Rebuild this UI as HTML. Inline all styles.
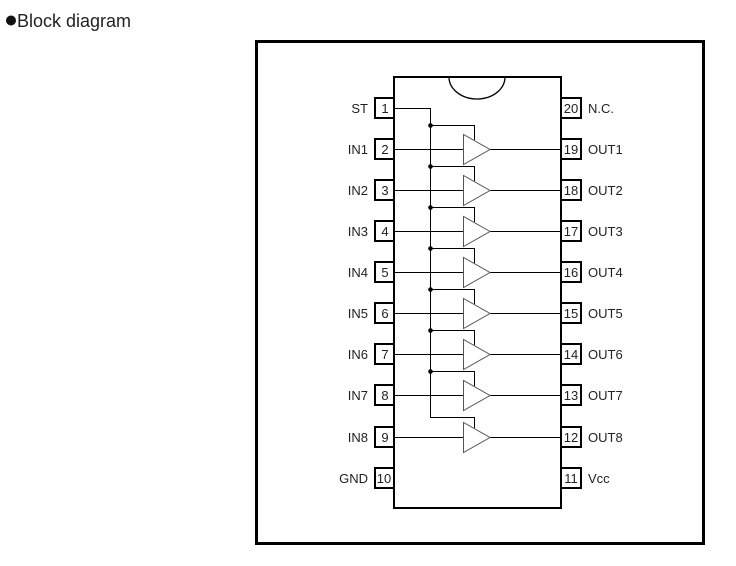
<!DOCTYPE html>
<html><head><style>
html,body{margin:0;padding:0;background:#fff;width:736px;height:566px;overflow:hidden}
svg{position:absolute;left:0;top:0}
text{font-family:"Liberation Sans",Arial,sans-serif;fill:#222}
.l{font-size:13px;text-anchor:end}
.r{font-size:13px}
.n{font-size:13px;text-anchor:middle}
</style></head><body>
<svg width="736" height="566" viewBox="0 0 736 566">
<text x="17" y="27" style="font-size:18px">Block diagram</text>
<circle cx="11" cy="20.5" r="5" fill="#111"/>
<rect x="256.5" y="41.5" width="447" height="502" fill="none" stroke="#000" stroke-width="3"/>
<rect x="394" y="77" width="167" height="431" fill="none" stroke="#000" stroke-width="2"/>
<path d="M449,77 A28,22 0 0 0 505,77" fill="none" stroke="#000" stroke-width="1.3"/>
<g fill="#fff" stroke="#000" stroke-width="2">
<rect x="375" y="98" width="19" height="20"/><rect x="375" y="139" width="19" height="20"/>
<rect x="375" y="180" width="19" height="20"/><rect x="375" y="221" width="19" height="20"/>
<rect x="375" y="262" width="19" height="20"/><rect x="375" y="303" width="19" height="20"/>
<rect x="375" y="344" width="19" height="20"/><rect x="375" y="385" width="19" height="20"/>
<rect x="375" y="427" width="19" height="20"/><rect x="375" y="468" width="19" height="20"/>
<rect x="561" y="98" width="20" height="20"/><rect x="561" y="139" width="20" height="20"/>
<rect x="561" y="180" width="20" height="20"/><rect x="561" y="221" width="20" height="20"/>
<rect x="561" y="262" width="20" height="20"/><rect x="561" y="303" width="20" height="20"/>
<rect x="561" y="344" width="20" height="20"/><rect x="561" y="385" width="20" height="20"/>
<rect x="561" y="427" width="20" height="20"/><rect x="561" y="468" width="20" height="20"/>
</g>
<text class="n" x="385" y="113">1</text><text class="n" x="385" y="154">2</text>
<text class="n" x="385" y="195">3</text><text class="n" x="385" y="236">4</text>
<text class="n" x="385" y="277">5</text><text class="n" x="385" y="318">6</text>
<text class="n" x="385" y="359">7</text><text class="n" x="385" y="400">8</text>
<text class="n" x="385" y="442">9</text><text class="n" x="384" y="483">10</text>
<text class="n" x="571" y="113">20</text><text class="n" x="571" y="154">19</text>
<text class="n" x="571" y="195">18</text><text class="n" x="571" y="236">17</text>
<text class="n" x="571" y="277">16</text><text class="n" x="571" y="318">15</text>
<text class="n" x="571" y="359">14</text><text class="n" x="571" y="400">13</text>
<text class="n" x="571" y="442">12</text><text class="n" x="571" y="483">11</text>
<text class="l" x="368" y="113">ST</text><text class="l" x="368" y="154">IN1</text>
<text class="l" x="368" y="195">IN2</text><text class="l" x="368" y="236">IN3</text>
<text class="l" x="368" y="277">IN4</text><text class="l" x="368" y="318">IN5</text>
<text class="l" x="368" y="359">IN6</text><text class="l" x="368" y="400">IN7</text>
<text class="l" x="368" y="442">IN8</text><text class="l" x="368" y="483">GND</text>
<text class="r" x="588" y="113">N.C.</text><text class="r" x="588" y="154">OUT1</text>
<text class="r" x="588" y="195">OUT2</text><text class="r" x="588" y="236">OUT3</text>
<text class="r" x="588" y="277">OUT4</text><text class="r" x="588" y="318">OUT5</text>
<text class="r" x="588" y="359">OUT6</text><text class="r" x="588" y="400">OUT7</text>
<text class="r" x="588" y="442">OUT8</text><text class="r" x="588" y="483">Vcc</text>
<g fill="none" stroke="#000" stroke-width="1">
<path d="M394,108.5H430.5V417.5H474.5V428"/>
<path d="M394,149.5H463M490,149.5H561M430,125.5H474.5V140"/>
<path d="M394,190.5H463M490,190.5H561M430,166.5H474.5V181"/>
<path d="M394,231.5H463M490,231.5H561M430,207.5H474.5V222"/>
<path d="M394,272.5H463M490,272.5H561M430,248.5H474.5V263"/>
<path d="M394,313.5H463M490,313.5H561M430,289.5H474.5V304"/>
<path d="M394,354.5H463M490,354.5H561M430,330.5H474.5V345"/>
<path d="M394,395.5H463M490,395.5H561M430,371.5H474.5V386"/>
<path d="M394,437.5H463M490,437.5H561"/>
</g>
<g fill="#fff" stroke="#555" stroke-width="1">
<polygon points="463.5,134.5 463.5,164.5 490,149.5"/>
<polygon points="463.5,175.5 463.5,205.5 490,190.5"/>
<polygon points="463.5,216.5 463.5,246.5 490,231.5"/>
<polygon points="463.5,257.5 463.5,287.5 490,272.5"/>
<polygon points="463.5,298.5 463.5,328.5 490,313.5"/>
<polygon points="463.5,339.5 463.5,369.5 490,354.5"/>
<polygon points="463.5,380.5 463.5,410.5 490,395.5"/>
<polygon points="463.5,422.5 463.5,452.5 490,437.5"/>
</g>
<g fill="#000">
<circle cx="430.5" cy="125.5" r="2.3"/><circle cx="430.5" cy="166.5" r="2.3"/>
<circle cx="430.5" cy="207.5" r="2.3"/><circle cx="430.5" cy="248.5" r="2.3"/>
<circle cx="430.5" cy="289.5" r="2.3"/><circle cx="430.5" cy="330.5" r="2.3"/>
<circle cx="430.5" cy="371.5" r="2.3"/>
</g>
</svg>
</body></html>
